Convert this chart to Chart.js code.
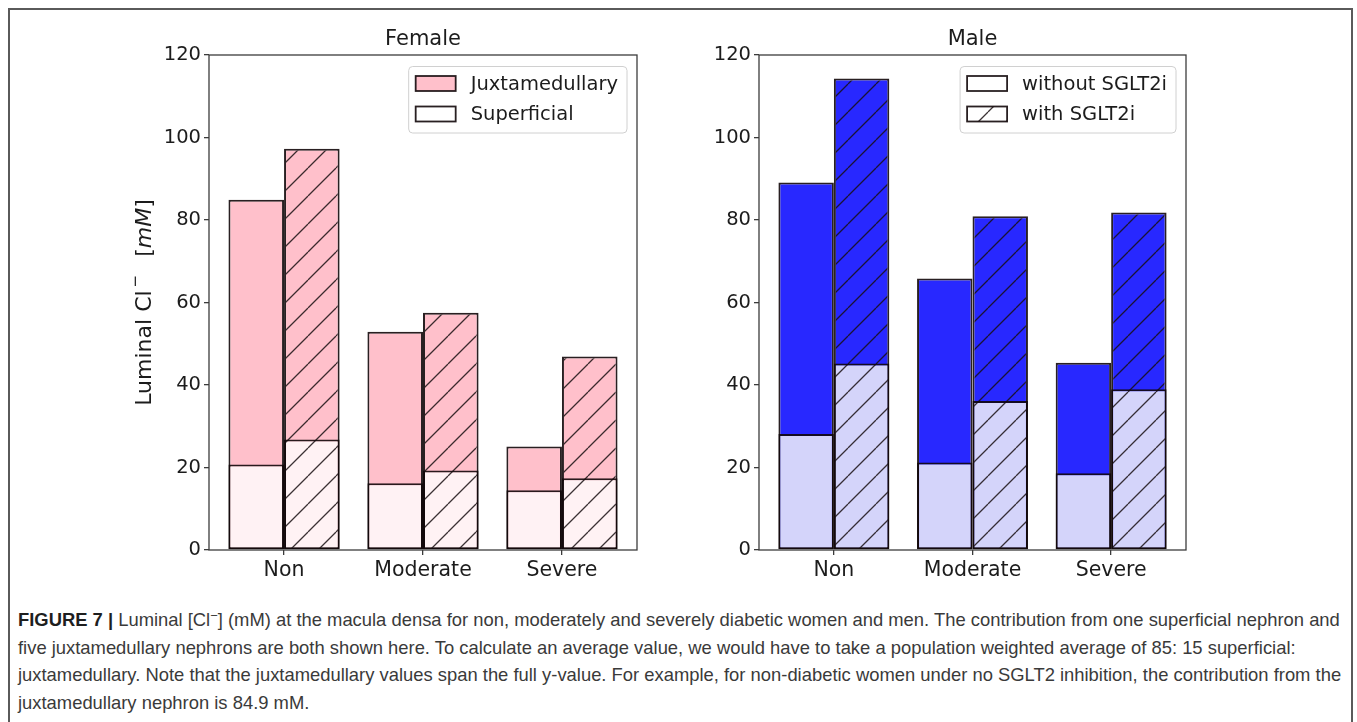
<!DOCTYPE html>
<html>
<head>
<meta charset="utf-8">
<script src="https://cdn.jsdelivr.net/npm/chart.js@4.4.1/dist/chart.umd.min.js"></script>
<style>
  html, body { margin: 0; padding: 0; background: #ffffff; }
  #page { position: relative; width: 1357px; height: 722px; overflow: hidden; background: #ffffff; }
  #frame { position: absolute; left: 8px; top: 8px; width: 1345px; height: 800px;
           border: 2px solid #5a5a5a; border-bottom: none; box-sizing: border-box; }
  canvas { position: absolute; top: 0; }
  #female { left: 0; }
  #male { left: 680px; }
  .cap { position: absolute; left: 18px; white-space: nowrap; font-family: "Liberation Sans", Arial, sans-serif;
         font-size: 18.4px; line-height: 27.5px; color: #3a3a3a; }
  .cap b { color: #1e1e1e; }
  .cap sup { font-size: 0.7em; line-height: 0; vertical-align: 0.5em; }
</style>
</head>
<body>
<div id="page">
  <div id="frame"></div>
  <canvas id="female" width="680" height="600"></canvas>
  <canvas id="male" width="677" height="600"></canvas>
  <div class="cap" style="top:606px"><b>FIGURE 7 |</b> Luminal [Cl<sup>−</sup>] (mM) at the macula densa for non, moderately and severely diabetic women and men. The contribution from one superficial nephron and</div>
  <div class="cap" style="top:633.5px">five juxtamedullary nephrons are both shown here. To calculate an average value, we would have to take a population weighted average of 85: 15 superficial:</div>
  <div class="cap" style="top:661px">juxtamedullary. Note that the juxtamedullary values span the full y-value. For example, for non-diabetic women under no SGLT2 inhibition, the contribution from the</div>
  <div class="cap" style="top:688.5px">juxtamedullary nephron is 84.9 mM.</div>
</div>
<script>
// Diabetes severity groups along the x axis
const categories = ['Non', 'Moderate', 'Severe'];

// Luminal Cl- at the macula densa (mM), women
const femaleJuxtaWithout = [84.9, 52.9, 25.1];
const femaleSuperWithout = [20.7, 16.2, 14.5];
const femaleJuxtaWith    = [97.3, 57.5, 46.9];
const femaleSuperWith    = [26.8, 19.3, 17.4];

// Luminal Cl- at the macula densa (mM), men
const maleJuxtaWithout = [89.1, 65.8, 45.4];
const maleSuperWithout = [28.1, 21.2, 18.6];
const maleJuxtaWith    = [114.3, 80.9, 81.8];
const maleSuperWith    = [45.2, 36.1, 39.0];

// Value axis
const yMin = 0, yMax = 120, yStep = 20;

const femaleLegendLabels = ['Juxtamedullary', 'Superficial'];
const maleLegendLabels = ['without SGLT2i', 'with SGLT2i'];

const FONT = 'DejaVu Sans';
const INK = '#1c1c1c';
const EDGE = 'rgba(18,8,10,0.9)';
const SPINE = '#3c3c3c';

function hatchPattern(ctx, fill) {
  const s = 28;
  const tile = document.createElement('canvas');
  tile.width = s; tile.height = s;
  const g = tile.getContext('2d');
  g.fillStyle = fill;
  g.fillRect(0, 0, s, s);
  g.strokeStyle = 'rgba(25,15,18,0.85)';
  g.lineWidth = 1.3;
  g.beginPath();
  for (let k = -1; k <= 1; k++) {
    g.moveTo(k * s, s);
    g.lineTo(k * s + s, 0);
  }
  g.stroke();
  return ctx.createPattern(tile, 'repeat');
}

const toPoints = arr => arr.map((v, i) => ({ x: i, y: v }));

function drawYLabel(ctx, cx, cy) {
  const base = '22px "' + FONT + '"';
  const small = '15px "' + FONT + '"';
  const ital = 'italic 22px "' + FONT + '"';
  const parts = [
    { t: 'Luminal Cl', f: base, dy: 0 },
    { gap: 3 },
    { t: '\u2212', f: small, dy: -9 },
    { gap: 18 },
    { t: '[', f: base, dy: 0 },
    { t: 'mM', f: ital, dy: 0 },
    { t: ']', f: base, dy: 0 }
  ];
  let total = 0;
  for (const p of parts) {
    if (p.gap) { total += p.gap; continue; }
    ctx.font = p.f;
    p.w = ctx.measureText(p.t).width;
    total += p.w;
  }
  ctx.save();
  ctx.translate(cx, cy);
  ctx.rotate(-Math.PI / 2);
  ctx.fillStyle = INK;
  ctx.textBaseline = 'middle';
  ctx.textAlign = 'left';
  let x = -total / 2;
  for (const p of parts) {
    if (p.gap) { x += p.gap; continue; }
    ctx.font = p.f;
    ctx.fillText(p.t, x, p.dy);
    x += p.w;
  }
  ctx.restore();
}

function roundRect(ctx, x, y, w, h, r) {
  ctx.beginPath();
  ctx.moveTo(x + r, y);
  ctx.lineTo(x + w - r, y);
  ctx.arcTo(x + w, y, x + w, y + r, r);
  ctx.lineTo(x + w, y + h - r);
  ctx.arcTo(x + w, y + h, x + w - r, y + h, r);
  ctx.lineTo(x + r, y + h);
  ctx.arcTo(x, y + h, x, y + h - r, r);
  ctx.lineTo(x, y + r);
  ctx.arcTo(x, y, x + r, y, r);
  ctx.closePath();
}

function decorations(cfg) {
  return {
    id: 'decorations',
    afterDatasetsDraw(chart) {
      const { ctx, chartArea: a } = chart;
      ctx.save();
      ctx.strokeStyle = SPINE;
      ctx.lineWidth = 1.3;
      ctx.strokeRect(a.left, a.top, a.right - a.left, a.bottom - a.top);
      ctx.restore();
    },
    afterDraw(chart) {
      const { ctx, chartArea: a } = chart;
      ctx.save();
      // panel title
      ctx.fillStyle = INK;
      ctx.font = '21px "' + FONT + '"';
      ctx.textAlign = 'center';
      ctx.textBaseline = 'middle';
      ctx.fillText(cfg.title, (a.left + a.right) / 2, 40);

      // legend box in the upper right corner of the plot
      ctx.font = '19.5px "' + FONT + '"';
      const textW = Math.max(...cfg.legend.map(it => ctx.measureText(it.label).width));
      const w = 7 + 40 + 15 + textW + 9;
      const h = 66.5;
      const x0 = a.right - 10 - w;
      const y0 = a.top + 11.5;
      roundRect(ctx, x0, y0, w, h, 4);
      ctx.fillStyle = 'rgba(255,255,255,0.8)';
      ctx.fill();
      ctx.strokeStyle = '#d0d0d0';
      ctx.lineWidth = 1;
      ctx.stroke();
      cfg.legend.forEach((it, i) => {
        const cy = y0 + 17 + i * 30.5;
        const bx = x0 + 7;
        ctx.fillStyle = it.hatch ? hatchPattern(ctx, it.fill) : it.fill;
        ctx.fillRect(bx, cy - 7.5, 40, 15);
        ctx.strokeStyle = EDGE;
        ctx.lineWidth = 1.8;
        ctx.strokeRect(bx, cy - 7.5, 40, 15);
        ctx.fillStyle = INK;
        ctx.textAlign = 'left';
        ctx.textBaseline = 'middle';
        ctx.fillText(it.label, bx + 55, cy + 1);
      });

      if (cfg.yLabel) drawYLabel(ctx, 145, (a.top + a.bottom) / 2);
      ctx.restore();
    }
  };
}

function makeChart(id, cfg) {
  const canvas = document.getElementById(id);
  const ctx = canvas.getContext('2d');
  const tickFont = { family: FONT, size: 19.5 };
  return new Chart(ctx, {
    type: 'bar',
    data: {
      datasets: [
        { label: 'Superficial, without SGLT2i', stack: 'without', data: toPoints(cfg.superWithout), backgroundColor: cfg.superColor },
        { label: 'Superficial, with SGLT2i', stack: 'with', data: toPoints(cfg.superWith), backgroundColor: hatchPattern(ctx, cfg.superColor) },
        { label: 'Juxtamedullary, without SGLT2i', stack: 'without', data: toPoints(cfg.juxtaWithout), backgroundColor: cfg.juxtaColor },
        { label: 'Juxtamedullary, with SGLT2i', stack: 'with', data: toPoints(cfg.juxtaWith), backgroundColor: hatchPattern(ctx, cfg.juxtaColor) }
      ]
    },
    options: {
      responsive: false,
      animation: false,
      devicePixelRatio: 1,
      layout: { padding: { left: 0, right: cfg.padRight, top: 55, bottom: 10 } },
      datasets: {
        bar: {
          categoryPercentage: 0.8,
          barPercentage: 1.0,
          borderWidth: 2,
          borderColor: EDGE,
          borderSkipped: false
        }
      },
      plugins: { legend: { display: false }, tooltip: { enabled: false }, title: { display: false } },
      scales: {
        x: {
          type: 'linear',
          min: -0.54,
          max: 2.54,
          offset: false,
          stacked: true,
          afterBuildTicks: s => { s.ticks = categories.map((_, i) => ({ value: i })); },
          afterFit: s => { s.height = 40; },
          ticks: {
            callback: v => categories[v],
            font: { family: FONT, size: 20.5 },
            color: INK,
            padding: 3,
            autoSkip: false,
            maxRotation: 0
          },
          grid: { display: true, offset: false, drawOnChartArea: false, drawTicks: true, tickLength: 5, color: SPINE, lineWidth: 1.3 },
          border: { display: false }
        },
        y: {
          min: yMin,
          max: yMax,
          stacked: false,
          afterFit: s => { s.width = cfg.axisWidth; },
          ticks: { stepSize: yStep, font: tickFont, color: INK, padding: 3 },
          grid: { display: true, drawOnChartArea: false, drawTicks: true, tickLength: 5, color: SPINE, lineWidth: 1.3 },
          border: { display: false }
        }
      }
    },
    plugins: [decorations(cfg)]
  });
}

makeChart('female', {
  title: 'Female',
  juxtaWithout: femaleJuxtaWithout, superWithout: femaleSuperWithout,
  juxtaWith: femaleJuxtaWith, superWith: femaleSuperWith,
  juxtaColor: '#FFC0CB', superColor: '#FFF2F4',
  axisWidth: 209, padRight: 43, yLabel: true,
  legend: [
    { label: femaleLegendLabels[0], fill: '#FFC0CB', hatch: false },
    { label: femaleLegendLabels[1], fill: '#FFFFFF', hatch: false }
  ]
});

makeChart('male', {
  title: 'Male',
  juxtaWithout: maleJuxtaWithout, superWithout: maleSuperWithout,
  juxtaWith: maleJuxtaWith, superWith: maleSuperWith,
  juxtaColor: '#2828FF', superColor: '#D4D4FA',
  axisWidth: 79, padRight: 171, yLabel: false,
  legend: [
    { label: maleLegendLabels[0], fill: '#FFFFFF', hatch: false },
    { label: maleLegendLabels[1], fill: '#FFFFFF', hatch: true }
  ]
});
</script>
</body>
</html>
